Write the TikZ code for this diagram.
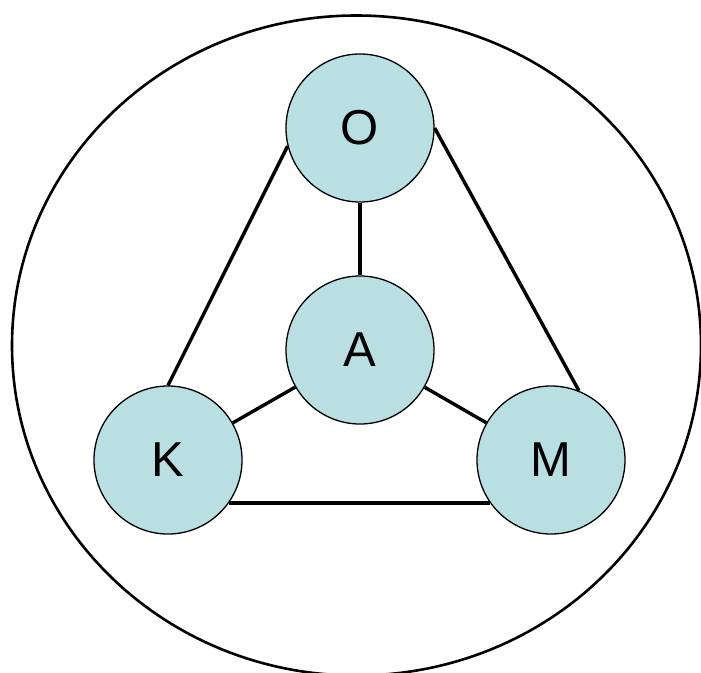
\documentclass[tikz,border=0pt]{standalone}
\usepackage{fontspec}
\setmainfont{Liberation Sans}
\definecolor{nodefill}{RGB}{185,223,227}
\begin{document}
\begin{tikzpicture}[x=1pt,y=-1pt,
  ball/.style={circle, draw=black, line width=1.3pt, fill=nodefill,
    minimum size=148pt, inner sep=0pt, font=\fontsize{49}{49}\selectfont},
  link/.style={line width=3.4pt, black}]
  \useasboundingbox (0,0) rectangle (701,672);
  % enclosing ellipse, running off the bottom and right edges
  \draw[line width=2.6pt] (356.5,345.5) ellipse [x radius=344.5, y radius=330];
  % the four balls
  \node[ball] (O) at (360,128) {O};
  \node[ball] (A) at (360,350) {A};
  \node[ball] (K) at (168,460) {K};
  \node[ball] (M) at (551,460) {M};
  % connectors between the balls
  \draw[link] (O.south) -- (A.north);
  \draw[link] (O.194) -- (K.north);
  \draw[link] (O.east) -- (M.68);
  \draw[link] (A) -- (K);
  \draw[link] (A) -- (M);
  \draw[link] (K.-35) -- (M.215);
\end{tikzpicture}
\end{document}
